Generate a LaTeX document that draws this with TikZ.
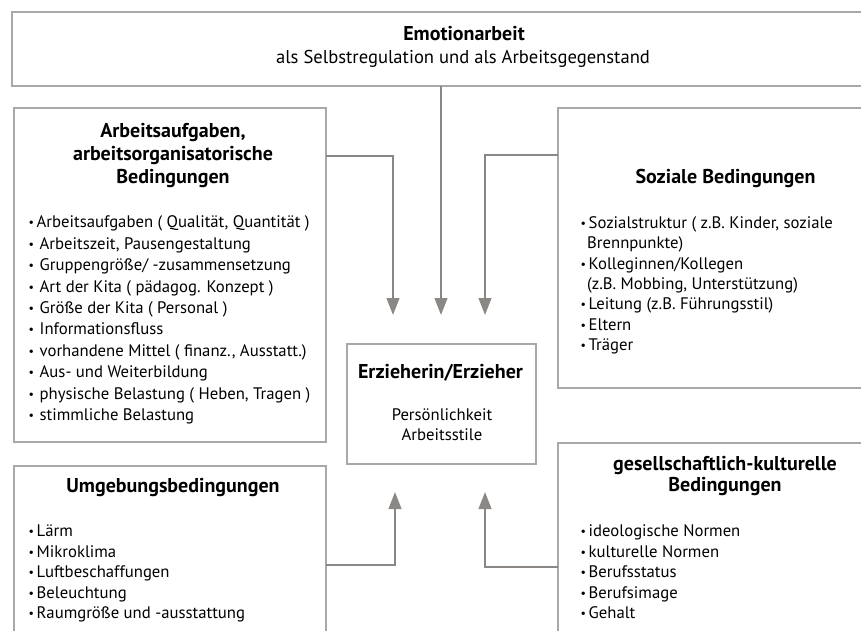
\documentclass[tikz,border=0pt]{standalone}
\usepackage{fontspec}
\setmainfont{PT Sans}
\usetikzlibrary{arrows.meta,calc}
\definecolor{linegray}{HTML}{8A8785}
\definecolor{boxgray}{HTML}{A8A8A8}
\newcommand{\smbu}{\raisebox{1pt}{\fontsize{12}{12}\selectfont•}}
\newcommand{\bltA}{\makebox[8.5pt][l]{\hspace{0.5pt}\smbu}}
\newcommand{\bltB}{\makebox[11.5pt][l]{\hspace{0.5pt}\smbu}}
\begin{document}
\begin{tikzpicture}[x=1pt,y=-1pt,
  box/.style={draw=boxgray, line width=1.2pt, rectangle, inner sep=0pt, outer sep=0pt},
  conn/.style={draw=linegray, line width=2pt, -{Triangle[width=12.7pt,length=17pt]}},
  ttl/.style={font=\fontsize{20}{23}\selectfont\bfseries, anchor=base, inner sep=0pt},
  txt/.style={font=\fontsize{16.7}{20}\selectfont, anchor=base west, inner sep=0pt},
  ctxt/.style={font=\fontsize{16.7}{20}\selectfont, anchor=base, inner sep=0pt},
]
\useasboundingbox (0,0) rectangle (861,630);
\clip (0,0) rectangle (861,630);
% boxes
\node[box, minimum width=904pt, minimum height=74pt] (emo) at (464,49) {};
\node[box, minimum width=312pt, minimum height=334pt] (arb) at (170,275) {};
\node[box, minimum width=334pt, minimum height=280pt] (soz) at (725,248) {};
\node[box, minimum width=189pt, minimum height=120pt] (mid) at (441.5,404) {};
\node[box, minimum width=312pt, minimum height=194pt] (umg) at (170,563) {};
\node[box, minimum width=334pt, minimum height=217pt] (ges) at (725,551.5) {};
% connectors
\draw[conn] (arb.east |- 0,156) -| (393,315);
\draw[conn] (emo.south -| 441,0) -- (441,315);
\draw[conn] (soz.west |- 0,155) -| (485,315);
\draw[conn] (umg.east |- 0,565) -| (395,492);
\draw[conn] (ges.west |- 0,567) -| (485,492);
% top
\node[ttl] (emoT) at (464,40) {Emotionarbeit};
\node[ctxt, font=\fontsize{18.6}{22}\selectfont] (emoS) at (463,63) {als Selbstregulation und als Arbeitsgegenstand};
% left upper
\node[ttl] (arbT1) at (173,137) {Arbeitsaufgaben,};
\node[ttl] (arbT2) at (173,160) {arbeitsorganisatorische};
\node[ttl] (arbT3) at (173,183) {Bedingungen};
\node[txt] (arbL1) at (28,227.7) {\bltA Arbeitsaufgaben ( Qualität, Quantität )};
\foreach \t [count=\i from 2] in {{Arbeitszeit, Pausengestaltung}, Gruppengröße/ -zusammensetzung, Art der Kita ( pädagog. Konzept ), Größe der Kita ( Personal ), Informationsfluss, {vorhandene Mittel ( finanz., Ausstatt.)}, Aus- und Weiterbildung, {physische Belastung ( Heben, Tragen )}, stimmliche Belastung}
  \node[txt] (arbL\i) at (28,{227.7+21.45*(\i-1)}) {\bltB \t};
% right upper
\node[ttl] (sozT) at (725.5,183.3) {Soziale Bedingungen};
\node[txt] (sozL1) at (580,228.3) {\bltA Sozialstruktur ( z.B. Kinder, soziale};
\node[txt] (sozL2) at (587,248.7) {Brennpunkte)};
\node[txt] (sozL3) at (580,269.1) {\bltA Kolleginnen/Kollegen};
\node[txt] (sozL4) at (587,289.5) {(z.B. Mobbing, Unterstützung)};
\node[txt] (sozL5) at (580,309.9) {\bltA Leitung (z.B. Führungsstil)};
\node[txt] (sozL6) at (580,330.3) {\bltA Eltern};
\node[txt] (sozL7) at (580,350.7) {\bltA Träger};
% middle
\node[ttl] (midT) at (440.5,378) {Erzieherin/Erzieher};
\node[ctxt] (midS1) at (442,420) {Persönlichkeit};
\node[ctxt] (midS2) at (442,440.5) {Arbeitsstile};
% left lower
\node[ttl] (umgT) at (173,492.7) {Umgebungsbedingungen};
\foreach \t [count=\i] in {Lärm, Mikroklima, Luftbeschaffungen, Beleuchtung, Raumgröße und -ausstattung}
  \node[txt] (umgL\i) at (28,{536.7+20.5*(\i-1)}) {\bltA \t};
% right lower
\node[ttl] (gesT1) at (725,470.7) {gesellschaftlich-kulturelle};
\node[ttl] (gesT2) at (725,491.7) {Bedingungen};
\foreach \t [count=\i] in {ideologische Normen, kulturelle Normen, Berufsstatus, Berufsimage, Gehalt}
  \node[txt] (gesL\i) at (580,{536.7+20.5*(\i-1)}) {\bltA \t};
\end{tikzpicture}
\end{document}
